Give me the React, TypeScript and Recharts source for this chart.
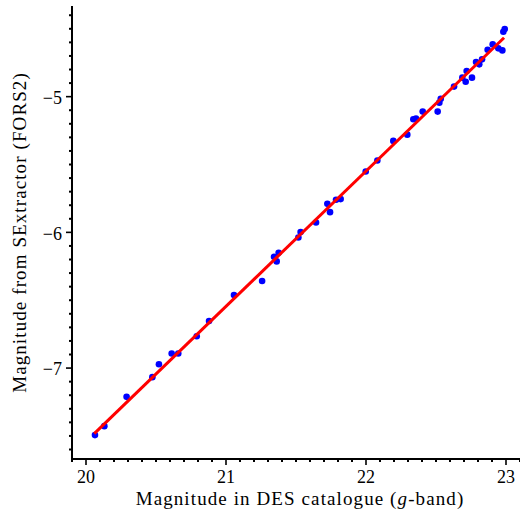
import React from 'react';
import { ScatterChart, Scatter, XAxis, YAxis, Label } from 'recharts';

// DES g-band magnitude vs SExtractor (FORS2) magnitude
const desMag = [
  20.064, 20.131, 20.29, 20.474, 20.521, 20.612, 20.659, 20.791, 20.879, 21.057,
  21.258, 21.343, 21.376, 21.362, 21.517, 21.533, 21.643, 21.724, 21.743, 21.786,
  21.819, 21.998, 22.081, 22.195, 22.295, 22.338, 22.357, 22.405, 22.512, 22.524,
  22.534, 22.629, 22.688, 22.712, 22.719, 22.757, 22.786, 22.809, 22.829, 22.869,
  22.905, 22.945, 22.974, 22.981, 22.991,
];
const sexMag = [
  -7.494, -7.428, -7.212, -7.067, -6.972, -6.893, -6.893, -6.766, -6.653, -6.461,
  -6.358, -6.18, -6.15, -6.214, -6.038, -5.998, -5.927, -5.79, -5.851, -5.76,
  -5.755, -5.552, -5.471, -5.326, -5.28, -5.167, -5.162, -5.11, -5.11, -5.044,
  -5.015, -4.926, -4.86, -4.89, -4.811, -4.86, -4.745, -4.762, -4.725, -4.654,
  -4.615, -4.644, -4.659, -4.522, -4.502,
];

// linear fit endpoints
const fitX = [20.059, 22.986];
const fitY = [-7.483, -4.566];

const xMajor = [20, 21, 22, 23];
const xTickLabels = ['20', '21', '22', '23'];
const yMajor = [-7, -6, -5];
const yTickLabels = ['\u22127', '\u22126', '\u22125'];

const X_DOMAIN: [number, number] = [19.9, 23.1];
const Y_DOMAIN: [number, number] = [-7.67, -4.332];

const xLabel = 'Magnitude in DES catalogue (';
const xLabelItalic = 'g';
const xLabelEnd = '-band)';
const yLabel = 'Magnitude from SExtractor (FORS2)';

const points = desMag.map((x, i) => ({ x, y: sexMag[i] }));
const fitPoints = fitX.map((x, i) => ({ x, y: fitY[i] }));

const xTicks: number[] = [];
for (let i = 199; i <= 231; i++) xTicks.push(i / 10);
const yTicks: number[] = [];
for (let i = -76; i <= -44; i++) yTicks.push(i / 10);

const FONT = "'Liberation Serif', 'Times New Roman', serif";
const TICK_SIZE = 6;
const TICK_MARGIN = 5;

const majorIndex = (list: number[], v: number) => list.findIndex((m) => Math.abs(m - v) < 1e-6);

const XTick = (props: any) => {
  const { x, y, payload } = props;
  const idx = majorIndex(xMajor, payload.value);
  const axisY = y - TICK_SIZE - TICK_MARGIN;
  const len = idx >= 0 ? 6 : 3;
  return (
    <g>
      <line x1={x} x2={x} y1={axisY} y2={axisY + len} stroke="#000" strokeWidth={idx >= 0 ? 1.6 : 2} />
      {idx >= 0 && (
        <text x={x} y={y} dy="0.71em" textAnchor="middle" fontFamily={FONT} fontSize={18} fill="#000">
          {xTickLabels[idx]}
        </text>
      )}
    </g>
  );
};

const YTick = (props: any) => {
  const { x, y, payload } = props;
  const idx = majorIndex(yMajor, payload.value);
  const axisX = x + TICK_SIZE + 4;
  const len = idx >= 0 ? 6 : 3;
  return (
    <g>
      <line x1={axisX} x2={axisX - len} y1={y} y2={y} stroke="#000" strokeWidth={idx >= 0 ? 1.6 : 2} />
      {idx >= 0 && (
        <text x={x} y={y} dy="0.4em" textAnchor="end" fontFamily={FONT} fontSize={18} fill="#000">
          {yTickLabels[idx]}
        </text>
      )}
    </g>
  );
};

const renderXLabel = (props: any) => {
  const vb = props.viewBox || {};
  const cx = vb.x + vb.width / 2 + 4;
  return (
    <text x={cx} y={505} textAnchor="middle" fontFamily={FONT} fontSize={19} letterSpacing={1.1} fill="#000">
      {xLabel}
      <tspan fontStyle="italic">{xLabelItalic}</tspan>
      {xLabelEnd}
    </text>
  );
};

const renderYLabel = (props: any) => {
  const vb = props.viewBox || {};
  const cy = vb.y + vb.height / 2;
  const bx = 26;
  return (
    <text
      x={bx}
      y={cy}
      transform={`rotate(-90, ${bx}, ${cy})`}
      textAnchor="middle"
      fontFamily={FONT}
      fontSize={19}
      letterSpacing={1.1}
      fill="#000"
    >
      {yLabel}
    </text>
  );
};

const Dot = (p: any) => <circle cx={p.cx} cy={p.cy} r={3.3} fill="#0000ff" />;
const NoDot = () => <g />;

export default function App() {
  return (
    <div style={{ position: 'absolute', left: 0, top: 0, width: 520, height: 512, overflow: 'hidden', background: '#fff' }}>
      <ScatterChart width={520} height={512} margin={{ top: 6, right: 0, bottom: 0, left: 0 }}>
        <XAxis
          dataKey="x"
          type="number"
          domain={X_DOMAIN}
          allowDataOverflow
          ticks={xTicks}
          interval={0}
          tick={<XTick />}
          tickLine={false}
          tickSize={TICK_SIZE}
          tickMargin={TICK_MARGIN}
          height={53}
          axisLine={{ stroke: '#000', strokeWidth: 2 }}
        >
          <Label content={renderXLabel} />
        </XAxis>
        <XAxis
          xAxisId="top"
          orientation="top"
          type="number"
          domain={X_DOMAIN}
          allowDataOverflow
          tick={false}
          tickLine={false}
          height={0}
          axisLine={{ stroke: '#000', strokeWidth: 2 }}
        />
        <YAxis
          dataKey="y"
          type="number"
          domain={Y_DOMAIN}
          allowDataOverflow
          ticks={yTicks}
          interval={0}
          tick={<YTick />}
          tickLine={false}
          tickSize={TICK_SIZE}
          tickMargin={4}
          width={72}
          axisLine={{ stroke: '#000', strokeWidth: 2 }}
        >
          <Label content={renderYLabel} />
        </YAxis>
        <Scatter data={points} shape={<Dot />} isAnimationActive={false} />
        <Scatter
          data={fitPoints}
          shape={<NoDot />}
          line={{ stroke: '#ff0000', strokeWidth: 3 }}
          isAnimationActive={false}
        />
      </ScatterChart>
    </div>
  );
}
